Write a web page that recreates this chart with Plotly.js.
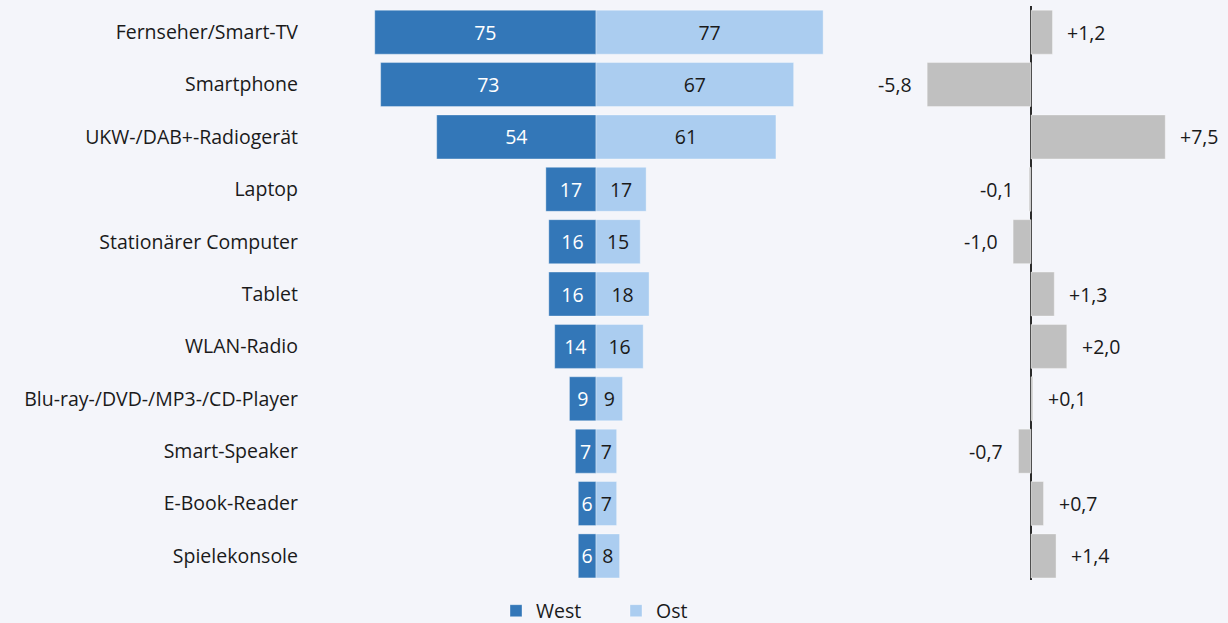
<!DOCTYPE html>
<html>
<head>
<meta charset="utf-8">
<script src="https://cdn.plot.ly/plotly-3.0.1.min.js"></script>
<style>
  html, body { margin: 0; padding: 0; background: #f4f5fa; }
  #chart { width: 1228px; height: 623px; }
</style>
</head>
<body>
<div id="chart"></div>
<script>
// ---- Data ----
const categories = [
  "Fernseher/Smart-TV",
  "Smartphone",
  "UKW-/DAB+-Radiogerät",
  "Laptop",
  "Stationärer Computer",
  "Tablet",
  "WLAN-Radio",
  "Blu-ray-/DVD-/MP3-/CD-Player",
  "Smart-Speaker",
  "E-Book-Reader",
  "Spielekonsole"
];
const westValues = [75, 73, 54, 17, 16, 16, 14, 9, 7, 6, 6];
const ostValues  = [77, 67, 61, 17, 15, 18, 16, 9, 7, 7, 8];
const diffValues = [1.2, -5.8, 7.5, -0.1, -1.0, 1.3, 2.0, 0.1, -0.7, 0.7, 1.4];
const seriesNames = ["West", "Ost"];

// ---- Styling / layout constants ----
const W = 1228, H = 623;
const mL = 305, mR = 10, mT = 6, mB = 43;
const plotW = W - mL - mR;
const colWest = "#3377b8", colOst = "#abcdf0", colDiff = "#c0c0c0";
const textCol = "#1a1a1a";
const fontFam = "'Open Sans', 'Noto Sans', sans-serif";
const fs = 19.5;

// left panel: zero at 596px, ~2.95 px per unit, panel spans 305..860
const lZero = 596, lScale = 2.95, lEnd = 860;
// right panel: zero at 1031px, ~17.9 px per unit, panel spans 880..1218
const rStart = 880, rZero = 1031, rScale = 17.9, rEnd = W - mR;

const fmtDiff = v => (v > 0 ? "+" : "") + v.toFixed(1).replace(".", ",");

const traces = [
  {
    type: "bar", orientation: "h", name: seriesNames[0],
    y: categories, x: westValues.map(v => -v),
    text: westValues.map(String),
    textposition: "inside", insidetextanchor: "middle", constraintext: "none",
    textangle: 0,
    textfont: { family: fontFam, size: fs, color: "#ffffff" },
    marker: { color: colWest, line: { color: "rgba(255,255,255,0.35)", width: 1 } },
    xaxis: "x", yaxis: "y", hoverinfo: "skip"
  },
  {
    type: "bar", orientation: "h", name: seriesNames[1],
    y: categories, x: ostValues,
    text: ostValues.map(String),
    textposition: "inside", insidetextanchor: "middle", constraintext: "none",
    textangle: 0,
    textfont: { family: fontFam, size: fs, color: textCol },
    marker: { color: colOst, line: { color: "rgba(255,255,255,0.35)", width: 1 } },
    xaxis: "x", yaxis: "y", hoverinfo: "skip"
  },
  {
    type: "bar", orientation: "h", name: "Differenz", showlegend: false,
    y: categories, x: diffValues,
    marker: { color: colDiff, line: { color: "rgba(255,255,255,0.35)", width: 1 } },
    xaxis: "x2", yaxis: "y", hoverinfo: "skip"
  }
];

const annotations = diffValues.map((v, i) => ({
  xref: "x2", yref: "y",
  x: v, y: categories[i],
  text: fmtDiff(v),
  showarrow: false,
  xanchor: v >= 0 ? "left" : "right",
  xshift: v >= 0 ? 13 : -13,
  font: { family: fontFam, size: fs, color: textCol }
}));

const layout = {
  width: W, height: H,
  margin: { l: mL, r: mR, t: mT, b: mB, pad: 0, autoexpand: false },
  paper_bgcolor: "#f4f5fa",
  plot_bgcolor: "#f4f5fa",
  font: { family: fontFam, size: fs, color: textCol },
  barmode: "overlay",
  bargap: 0.16,
  showlegend: true,
  legend: {
    orientation: "h",
    xref: "container", yref: "container",
    x: 496 / W, xanchor: "left",
    y: (H - 611) / H, yanchor: "middle",
    font: { family: fontFam, size: fs, color: textCol },
    bgcolor: "rgba(0,0,0,0)",
    entrywidth: 75, entrywidthmode: "pixels",
    traceorder: "normal",
    itemwidth: 30
  },
  xaxis: {
    domain: [0, (lEnd - mL) / plotW],
    range: [-(lZero - mL) / lScale, (lEnd - lZero) / lScale],
    showgrid: false, zeroline: false, showticklabels: false, ticks: "",
    showline: false, fixedrange: true
  },
  xaxis2: {
    domain: [(rStart - mL) / plotW, 1],
    range: [-(rZero - rStart) / rScale, (rEnd - rZero) / rScale],
    anchor: "y",
    showgrid: false, zeroline: true, zerolinecolor: "#2b2b2b", zerolinewidth: 2.5,
    showticklabels: false, ticks: "", showline: false, fixedrange: true
  },
  yaxis: {
    type: "category",
    range: [10.46, -0.5],
    showgrid: false, zeroline: false, showline: false, ticks: "",
    ticklabelstandoff: 6,
    tickfont: { family: fontFam, size: fs, color: textCol },
    fixedrange: true
  },
  annotations: annotations
};

Plotly.newPlot("chart", traces, layout, { displayModeBar: false, staticPlot: true });
</script>
</body>
</html>
